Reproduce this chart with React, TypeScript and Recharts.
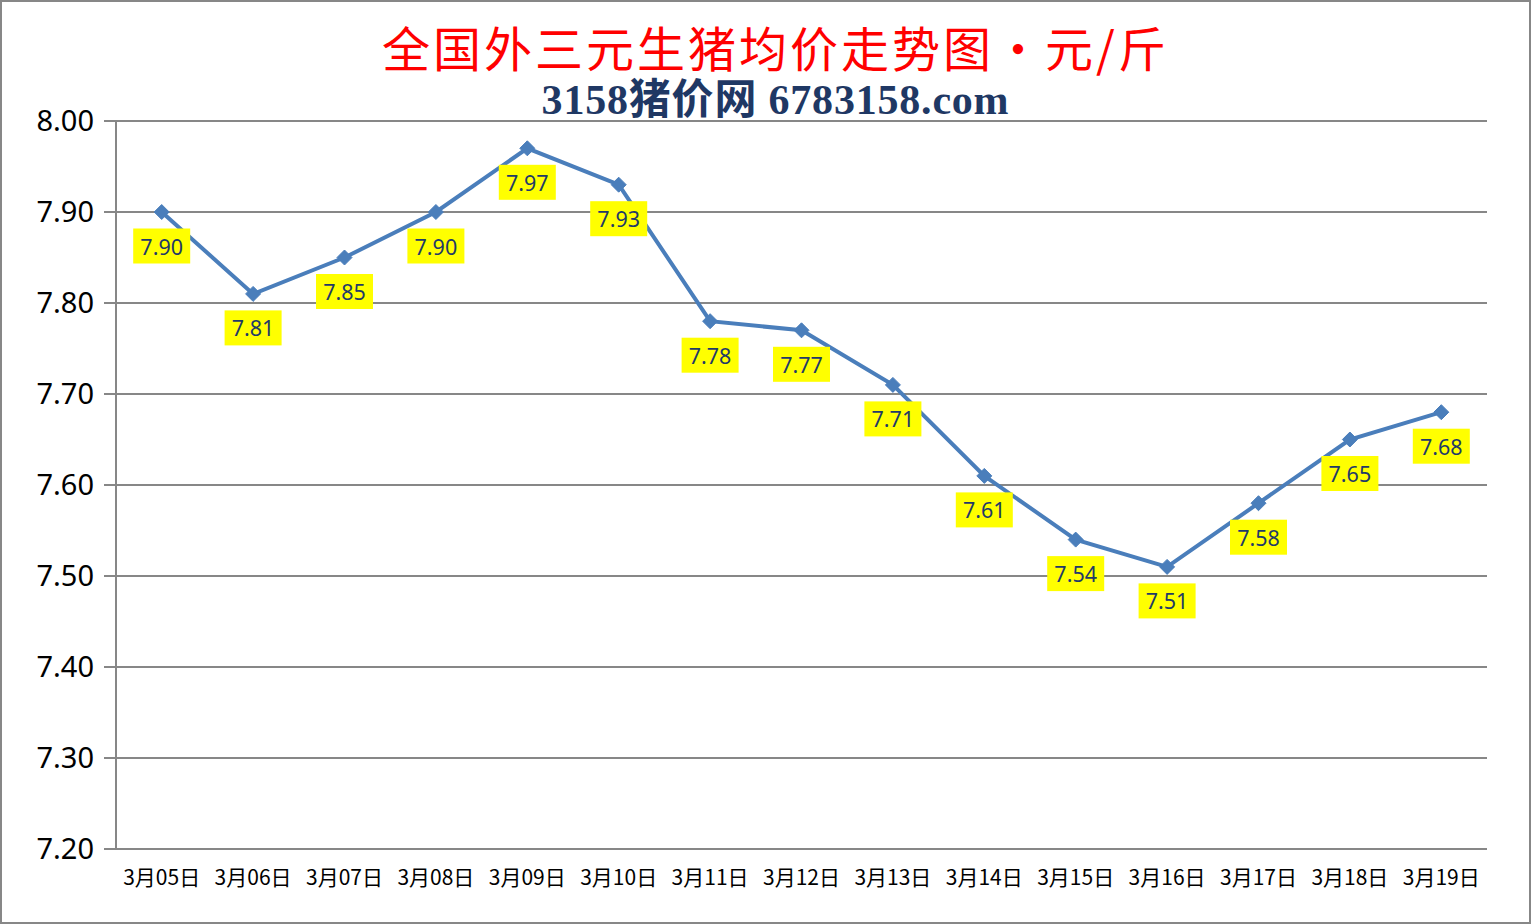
import { LineChart, Line, XAxis, YAxis, CartesianGrid, LabelList } from 'recharts';

// 日期 / 价格（元/斤）
const days = [
  '3月05日', '3月06日', '3月07日', '3月08日', '3月09日',
  '3月10日', '3月11日', '3月12日', '3月13日', '3月14日',
  '3月15日', '3月16日', '3月17日', '3月18日', '3月19日',
];
const prices = [7.90, 7.81, 7.85, 7.90, 7.97, 7.93, 7.78, 7.77, 7.71, 7.61, 7.54, 7.51, 7.58, 7.65, 7.68];
const yTicks = [7.2, 7.3, 7.4, 7.5, 7.6, 7.7, 7.8, 7.9, 8.0];

const title = '全国外三元生猪均价走势图·元/斤';
const subtitle = '3158猪价网 6783158.com';

// each day sits in the middle of its slot, ticks mark the slot edges
const data = days.map((d, i) => ({ x: i + 0.5, day: d, price: prices[i] }));
const edges = days.map((_, i) => i).concat(days.length);
const centers = days.map((_, i) => i + 0.5);

const GRAY = '#878787';
const BLUE = '#4A7EBB';

const Diamond = (props: any) => {
  const { cx, cy } = props;
  if (cx == null || cy == null) return null;
  const r = 7.5;
  return (
    <polygon
      points={`${cx},${cy - r} ${cx + r},${cy} ${cx},${cy + r} ${cx - r},${cy}`}
      fill={BLUE}
      stroke={BLUE}
      strokeWidth={1}
    />
  );
};

const PriceLabel = (props: any) => {
  const { x, y, value } = props;
  const w = 57;
  const h = 35;
  const cy = y + 34;
  return (
    <g>
      <rect x={x - w / 2} y={cy - h / 2} width={w} height={h} fill="#FFFF00" />
      <text
        x={x}
        y={cy}
        textAnchor="middle"
        dominantBaseline="central"
        fontFamily="'Noto Sans', sans-serif"
        fontSize={21.5}
        fill="#1F3A68"
      >
        {Number(value).toFixed(2)}
      </text>
    </g>
  );
};

export default function App() {
  return (
    <div
      style={{
        position: 'absolute',
        left: 0,
        top: 0,
        width: 1531,
        height: 924,
        boxSizing: 'border-box',
        border: `2px solid ${GRAY}`,
        background: '#fff',
        overflow: 'hidden',
      }}
    >
      <div
        style={{
          position: 'absolute',
          left: -2,
          width: 1531,
          top: 18,
          textAlign: 'center',
          paddingLeft: 20,
          boxSizing: 'border-box',
          fontFamily: "'Noto Sans CJK SC', serif",
          fontSize: 48,
          letterSpacing: 3,
          lineHeight: '52px',
          color: '#FF0000',
          whiteSpace: 'nowrap',
        }}
      >
        {title}
      </div>
      <div
        style={{
          position: 'absolute',
          left: -2,
          width: 1531,
          top: 76,
          textAlign: 'center',
          paddingLeft: 20,
          boxSizing: 'border-box',
          fontFamily: "'Liberation Serif', 'Noto Sans CJK SC', serif",
          fontWeight: 'bold',
          fontSize: 42,
          letterSpacing: 0.8,
          lineHeight: '44px',
          color: '#1F3864',
          whiteSpace: 'nowrap',
        }}
      >
        {subtitle}
      </div>
      <div style={{ position: 'absolute', left: -2, top: -2 }}>
        <LineChart width={1531} height={924} data={data} margin={{ top: 121, right: 44, bottom: 0, left: 0 }}>
          <CartesianGrid vertical={false} stroke={GRAY} strokeWidth={2} />
          <XAxis
            xAxisId="b"
            dataKey="x"
            type="number"
            domain={[0, days.length]}
            ticks={edges}
            interval={0}
            tick={false}
            tickSize={8}
            height={8}
            axisLine={{ stroke: GRAY, strokeWidth: 2 }}
            tickLine={{ stroke: GRAY, strokeWidth: 2 }}
          />
          <XAxis
            xAxisId="l"
            dataKey="x"
            type="number"
            domain={[0, days.length]}
            ticks={centers}
            interval={0}
            height={67}
            axisLine={false}
            tickLine={false}
            tickSize={0}
            tickMargin={13}
            tickFormatter={(v: number) => days[Math.round(v - 0.5)]}
            tick={{ fill: '#000', fontSize: 21, fontFamily: "'Noto Sans CJK SC', sans-serif" }}
          />
          <YAxis
            domain={[7.2, 8.0]}
            ticks={yTicks}
            interval={0}
            width={116}
            tickSize={12}
            tickMargin={10}
            axisLine={{ stroke: GRAY, strokeWidth: 2 }}
            tickLine={{ stroke: GRAY, strokeWidth: 2 }}
            tickFormatter={(v: number) => v.toFixed(2)}
            tick={{ fill: '#000', fontSize: 29, fontFamily: "'Noto Sans', sans-serif" }}
          />
          <Line
            xAxisId="b"
            type="linear"
            dataKey="price"
            stroke={BLUE}
            strokeWidth={4}
            dot={<Diamond />}
            activeDot={false}
            isAnimationActive={false}
          >
            <LabelList dataKey="price" content={<PriceLabel />} />
          </Line>
        </LineChart>
      </div>
    </div>
  );
}
